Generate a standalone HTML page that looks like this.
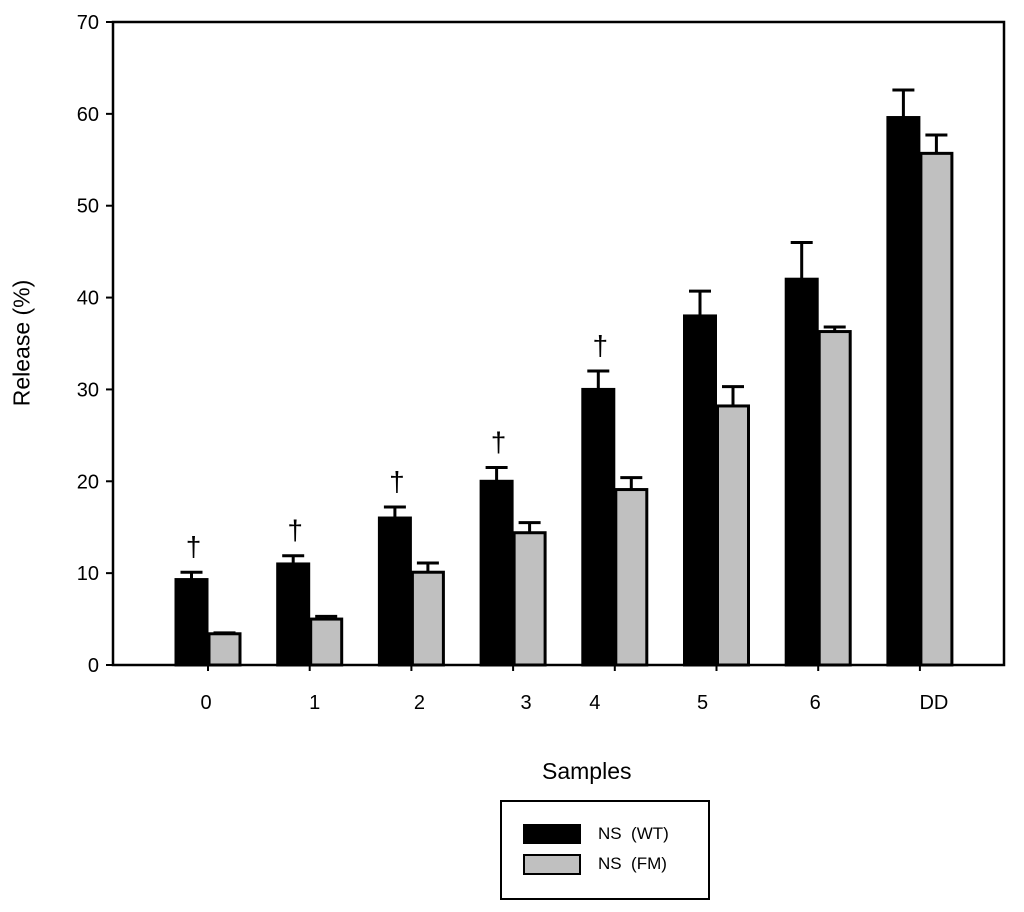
<!DOCTYPE html>
<html><head><meta charset="utf-8"><style>body{margin:0;background:#fff}svg{display:block;font-family:"Liberation Sans",sans-serif}</style></head>
<body>
<svg id="chart" width="1024" height="912"></svg>
<script>
const categories=["0","1","2","3","4","5","6","DD"];
const wtValues=[9.3,11.0,16.0,20.0,30.0,38.0,42.0,59.6];
const wtErrors=[0.8,0.9,1.2,1.5,2.0,2.7,4.0,3.0];
const fmValues=[3.4,5.0,10.1,14.4,19.1,28.2,36.3,55.7];
const fmErrors=[0.1,0.3,1.0,1.1,1.3,2.1,0.5,2.0];
const daggers=[true,true,true,true,true,false,false,false];
const yTicks=[0,10,20,30,40,50,60,70];
const labelOffsets=[-2,5,8,13,-20,-14,-3,14];
const NS="http://www.w3.org/2000/svg";
const svg=document.getElementById('chart');
const L=113,R=1004,T=22,B=665;
const y=v=>B-(v/70)*(B-T);
const gx=i=>208+i*101.7;
const BW=33;
function mk(t,a,p){const e=document.createElementNS(NS,t);for(const k in a)e.setAttribute(k,a[k]);(p||svg).appendChild(e);return e;}
yTicks.forEach(v=>{
 const t=mk('text',{x:L-14,y:y(v)+7,'text-anchor':'end','font-size':20});t.textContent=v;
 
 
 const l=mk('line',{x1:L-7,x2:L,y1:y(v),y2:y(v),stroke:'#000','stroke-width':2});
 
 
});
function bar(cx,v,e,fill,name){
 const r=mk('rect',{x:cx+1,y:y(v),width:BW-2,height:B-y(v),fill:fill,stroke:'#000','stroke-width':3});
 
 
 const m=cx+BW/2;
 const el=mk('path',{d:`M${m},${y(v)}V${y(v+e)}M${m-11},${y(v+e)}H${m+11}`,stroke:'#000','stroke-width':3,fill:'none'});
 
 
}
categories.forEach((c,i)=>{
 const g=gx(i);
 bar(g-BW,wtValues[i],wtErrors[i],'#000','bar-wt-'+c);
 bar(g,fmValues[i],fmErrors[i],'#c0c0c0','bar-fm-'+c);
 const tk=mk('line',{x1:g,x2:g,y1:B,y2:B+6,stroke:'#000','stroke-width':2});
 
 
 const t=mk('text',{x:g+labelOffsets[i],y:709,'text-anchor':'middle','font-size':20});t.textContent=c;
 
 
 if(daggers[i]){const d=mk('text',{x:g-BW/2+2,y:y(wtValues[i]+wtErrors[i])-16,'text-anchor':'middle','font-size':28});d.textContent='†';
 
 }
});
const fr=mk('rect',{x:L,y:T,width:R-L,height:B-T,fill:'none',stroke:'#000','stroke-width':2.5});


</script>
<div style="position:absolute;left:0;top:0;width:1024px;height:912px;pointer-events:none">
<div style="position:absolute;left:22px;top:343px;transform:translate(-50%,-50%) rotate(-90deg);font:23px 'Liberation Sans',sans-serif;white-space:nowrap">Release (%)</div>
<div style="position:absolute;left:542px;top:758px;font:23px 'Liberation Sans',sans-serif">Samples</div>
<div style="position:absolute;left:500px;top:800px;width:206px;height:96px;border:2px solid #000;font:17px 'Liberation Sans',sans-serif">
 <div style="position:absolute;left:21px;top:22px;width:56px;height:18px;background:#000;border:1px solid #000"></div>
 <div style="position:absolute;left:96px;top:22px">NS&nbsp; (WT)</div>
 <div style="position:absolute;left:21px;top:52px;width:54px;height:17px;background:#c0c0c0;border:2px solid #000"></div>
 <div style="position:absolute;left:96px;top:52px">NS&nbsp; (FM)</div>
</div>
</div>
</body></html>
